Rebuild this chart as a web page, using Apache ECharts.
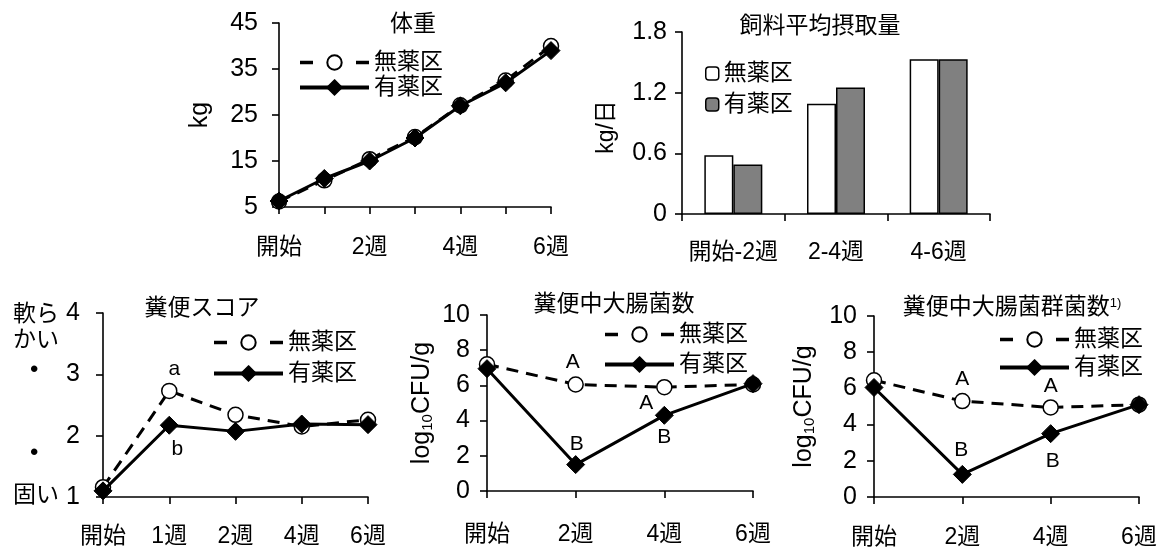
<!DOCTYPE html>
<html>
<head>
<meta charset="utf-8">
<script src="https://cdn.jsdelivr.net/npm/echarts@6/dist/echarts.min.js"></script>
<style>
  html, body { margin: 0; background: #fff; }
  #chart { width: 1161px; height: 551px; }
</style>
</head>
<body>
<div id="chart"></div>
<script>
// 体重
const weightWeeks = ['開始', '1週', '2週', '3週', '4週', '5週', '6週'];
const weightNoDrug = [6.2, 10.8, 15.4, 20.2, 27.1, 32.5, 40.0];
const weightDrug = [6.3, 11.2, 15.0, 20.0, 27.0, 32.0, 39.0];
const weightTicks = [5, 15, 25, 35, 45];

// 飼料平均摂取量
const feedPeriods = ['開始-2週', '2-4週', '4-6週'];
const feedNoDrug = [0.58, 1.09, 1.53];
const feedDrug = [0.49, 1.25, 1.53];
const feedTicks = [0, 0.6, 1.2, 1.8];

// 糞便スコア
const scoreWeeks = ['開始', '1週', '2週', '4週', '6週'];
const scoreNoDrug = [1.16, 2.73, 2.34, 2.15, 2.26];
const scoreDrug = [1.10, 2.17, 2.07, 2.19, 2.18];
const scoreTicks = [1, 2, 3, 4];
const scoreNoDrugLetters = ['', 'a', '', '', ''];
const scoreDrugLetters = ['', 'b', '', '', ''];

// 糞便中大腸菌数 / 糞便中大腸菌群菌数
const cfuWeeks = ['開始', '2週', '4週', '6週'];
const cfuTicks = [0, 2, 4, 6, 8, 10];
const ecoliNoDrug = [7.2, 6.05, 5.9, 6.05];
const ecoliDrug = [6.95, 1.5, 4.3, 6.1];
const ecoliNoDrugLetters = ['', 'A', 'A', ''];
const ecoliDrugLetters = ['', 'B', 'B', ''];
const coliNoDrug = [6.45, 5.3, 4.95, 5.1];
const coliDrug = [6.05, 1.25, 3.5, 5.1];
const coliNoDrugLetters = ['', 'A', 'A', ''];
const coliDrugLetters = ['', 'B', 'B', ''];

const FONT = "'Liberation Sans', 'Noto Sans CJK JP', sans-serif";
const BLACK = '#000';

let chart = echarts.init(document.getElementById('chart'));

let axisLine = {show: true, onZero: false, lineStyle: {color: BLACK, width: 1.6}};
let axisTick = {show: true, length: 7, lineStyle: {color: BLACK, width: 1.6}};

function valueAxis(gridIndex, ticks, margin, extra) {
  return Object.assign({
    type: 'value',
    gridIndex: gridIndex,
    min: ticks[0],
    max: ticks[ticks.length - 1],
    interval: ticks[1] - ticks[0],
    axisLine: axisLine,
    axisTick: axisTick,
    splitLine: {show: false},
    axisLabel: {color: BLACK, fontSize: 25, fontFamily: FONT, margin: margin}
  }, extra || {});
}

function catAxis(gridIndex, data, margin, boundaryGap, labelInterval) {
  return {
    type: 'category',
    gridIndex: gridIndex,
    data: data,
    boundaryGap: boundaryGap,
    axisLine: axisLine,
    axisTick: Object.assign({interval: 0}, axisTick),
    axisLabel: {color: BLACK, fontSize: 23, fontFamily: FONT, margin: margin, interval: labelInterval}
  };
}

// letter marks sit on the data points, nudged by an offset
function withLetters(values, letters, offsets) {
  return values.map(function (v, i) {
    if (!letters || !letters[i]) return v;
    return {
      value: v,
      label: {
        show: true, formatter: letters[i], position: 'inside', offset: offsets[i],
        fontSize: 21, fontFamily: FONT, color: BLACK
      }
    };
  });
}

function noDrugLine(name, idx, data) {
  return {
    type: 'line', name: name, xAxisIndex: idx, yAxisIndex: idx, data: data,
    symbol: 'circle', symbolSize: 15,
    itemStyle: {color: '#fff', borderColor: BLACK, borderWidth: 1.5},
    lineStyle: {color: BLACK, width: 3, type: [12, 8]},
    z: 2
  };
}

function drugLine(name, idx, data) {
  return {
    type: 'line', name: name, xAxisIndex: idx, yAxisIndex: idx, data: data,
    symbol: 'diamond', symbolSize: 18,
    itemStyle: {color: BLACK, borderColor: BLACK, borderWidth: 1},
    lineStyle: {color: BLACK, width: 3, type: 'solid'},
    z: 3
  };
}

function lineLegend(suffix, left, top, gap) {
  return {
    data: [
      {name: '無薬区' + suffix, lineStyle: {type: [13, 15], width: 3.5}},
      {name: '有薬区' + suffix, lineStyle: {type: 'solid', width: 4}}
    ],
    orient: 'vertical', left: left, top: top, itemGap: gap, padding: 0,
    itemWidth: 69, itemHeight: 18, selectedMode: false,
    formatter: function (n) { return n.split('#')[0]; },
    textStyle: {color: BLACK, fontSize: 23, fontFamily: FONT}
  };
}

function titleText(text, x, y) {
  return {
    type: 'text', x: x, y: y,
    style: {
      text: text, fill: BLACK, fontSize: 23, fontFamily: FONT,
      align: 'center', verticalAlign: 'middle',
      rich: {sup: {fontSize: 13, fontFamily: FONT, verticalAlign: 'top', fill: BLACK}}
    }
  };
}

function sideText(text, x, y, size) {
  return {
    type: 'text', x: x, y: y,
    style: {text: text, fill: BLACK, fontSize: size || 23, fontFamily: FONT, align: 'left', verticalAlign: 'middle'}
  };
}

let cfuName = 'log{sub|10}CFU/g';
let cfuNameStyle = {
  color: BLACK, fontSize: 25, fontFamily: FONT,
  rich: {sub: {fontSize: 15, fontFamily: FONT, verticalAlign: 'bottom', color: BLACK}}
};

chart.setOption({
  animation: false,
  backgroundColor: '#fff',
  textStyle: {fontFamily: FONT},
  grid: [
    {left: 279, top: 23, width: 272, height: 184},
    {left: 682, top: 32, width: 308, height: 182},
    {left: 103, top: 313, width: 265, height: 184},
    {left: 487, top: 315, width: 266, height: 176},
    {left: 874, top: 316, width: 265, height: 181}
  ],
  xAxis: [
    catAxis(0, weightWeeks, 29, false, 1),
    catAxis(1, feedPeriods, 27, true, 0),
    catAxis(2, scoreWeeks, 28, false, 0),
    catAxis(3, cfuWeeks, 32, false, 0),
    catAxis(4, cfuWeeks, 29, false, 0)
  ],
  yAxis: [
    valueAxis(0, weightTicks, 21, {
      name: 'kg', nameLocation: 'middle', nameGap: 66,
      nameTextStyle: {color: BLACK, fontSize: 25, fontFamily: FONT}
    }),
    valueAxis(1, feedTicks, 15, {
      name: 'kg/日', nameLocation: 'middle', nameGap: 64,
      nameTextStyle: {color: BLACK, fontSize: 23, fontFamily: FONT, padding: [0, 8, 0, 0]},
      axisLabel: {
        color: BLACK, fontSize: 25, fontFamily: FONT, margin: 15,
        formatter: function (v) { return v === 0 ? '0' : v.toFixed(1); }
      }
    }),
    valueAxis(2, scoreTicks, 23),
    valueAxis(3, cfuTicks, 17, {
      name: cfuName, nameLocation: 'middle', nameGap: 52, nameTextStyle: cfuNameStyle
    }),
    valueAxis(4, cfuTicks, 17, {
      name: cfuName, nameLocation: 'middle', nameGap: 57, nameTextStyle: cfuNameStyle
    })
  ],
  legend: [
    lineLegend('#w', 298, 51, 2),
    {
      data: ['無薬区#f', '有薬区#f'],
      orient: 'vertical', left: 705, top: 62, itemGap: 8, padding: 0,
      itemWidth: 13, itemHeight: 13, selectedMode: false,
      formatter: function (n) { return n.split('#')[0]; },
      textStyle: {color: BLACK, fontSize: 23, fontFamily: FONT},
      itemStyle: {borderColor: BLACK, borderWidth: 1.5}
    },
    lineLegend('#s', 212, 331, 8),
    lineLegend('#e', 603, 323, 7),
    lineLegend('#c', 998, 328, 5)
  ],
  graphic: [
    titleText('体重', 413, 25),
    titleText('飼料平均摂取量', 820, 27),
    titleText('糞便スコア', 202, 309),
    titleText('糞便中大腸菌数', 614, 305),
    titleText('糞便中大腸菌群菌数{sup|1)}', 1012, 308),
    sideText('軟ら', 13, 315),
    sideText('かい', 13, 341),
    sideText('•', 30, 370, 24),
    sideText('•', 30, 453, 24),
    sideText('固い', 13, 496)
  ],
  series: [
    noDrugLine('無薬区#w', 0, weightNoDrug),
    drugLine('有薬区#w', 0, weightDrug),
    {
      type: 'bar', name: '無薬区#f', xAxisIndex: 1, yAxisIndex: 1, data: feedNoDrug,
      barWidth: 29, barGap: '0%',
      itemStyle: {color: '#fff', borderColor: BLACK, borderWidth: 1.5}
    },
    {
      type: 'bar', name: '有薬区#f', xAxisIndex: 1, yAxisIndex: 1, data: feedDrug,
      barWidth: 29, barGap: '0%',
      itemStyle: {color: '#808080', borderColor: BLACK, borderWidth: 1.5}
    },
    noDrugLine('無薬区#s', 2, withLetters(scoreNoDrug, scoreNoDrugLetters, [null, [5, -22]])),
    drugLine('有薬区#s', 2, withLetters(scoreDrug, scoreDrugLetters, [null, [8, 24]])),
    noDrugLine('無薬区#e', 3, withLetters(ecoliNoDrug, ecoliNoDrugLetters, [null, [-3, -22], [-18, 16]])),
    drugLine('有薬区#e', 3, withLetters(ecoliDrug, ecoliDrugLetters, [null, [1, -20], [0, 22]])),
    noDrugLine('無薬区#c', 4, withLetters(coliNoDrug, coliNoDrugLetters, [null, [0, -22], [0, -21]])),
    drugLine('有薬区#c', 4, withLetters(coliDrug, coliDrugLetters, [null, [-1, -24], [2, 28]]))
  ]
});
</script>
</body>
</html>
